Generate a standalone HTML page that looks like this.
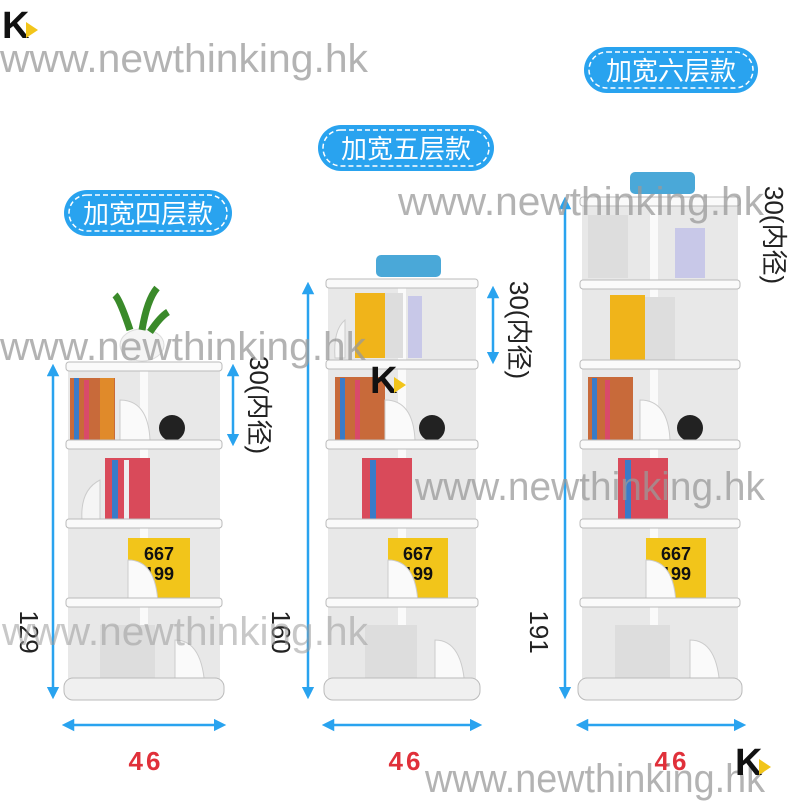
<!DOCTYPE html>
<html><head><meta charset="utf-8"><style>
html,body{margin:0;padding:0;background:#fff;}
svg{display:block;}
</style></head><body>
<svg width="800" height="810" viewBox="0 0 800 810" xmlns="http://www.w3.org/2000/svg" font-family="Liberation Sans, Noto Sans CJK SC, sans-serif">
<defs>
<marker id="a" viewBox="0 0 10 10" refX="5" refY="5" markerWidth="5" markerHeight="5" orient="auto-start-reverse"><path d="M0,0L10,5L0,10z" fill="#29a3ef"/></marker>
</defs>
<rect width="800" height="810" fill="#fff"/>

<!-- Pills -->
<g>
<rect x="64" y="190" width="168" height="46" rx="23" fill="#29a3ef"/>
<rect x="69" y="195" width="158" height="36" rx="18" fill="none" stroke="#fff" stroke-width="1.5" stroke-dasharray="5,3"/>
<text x="148" y="223" font-size="26" fill="#fff" text-anchor="middle" font-family="Noto Sans CJK SC, sans-serif">加宽四层款</text>
<rect x="318" y="125" width="176" height="46" rx="23" fill="#29a3ef"/>
<rect x="323" y="130" width="166" height="36" rx="18" fill="none" stroke="#fff" stroke-width="1.5" stroke-dasharray="5,3"/>
<text x="406" y="158" font-size="26" fill="#fff" text-anchor="middle" font-family="Noto Sans CJK SC, sans-serif">加宽五层款</text>
<rect x="584" y="47" width="174" height="46" rx="23" fill="#29a3ef"/>
<rect x="589" y="52" width="164" height="36" rx="18" fill="none" stroke="#fff" stroke-width="1.5" stroke-dasharray="5,3"/>
<text x="671" y="80" font-size="26" fill="#fff" text-anchor="middle" font-family="Noto Sans CJK SC, sans-serif">加宽六层款</text>
</g>

<!-- Shelf 1 -->
<g>
<rect x="68" y="365" width="152" height="320" fill="#e8e8e8"/>
<rect x="140" y="365" width="8" height="320" fill="#fafafa"/>
<rect x="70" y="378" width="45" height="63" fill="#c86a3a"/><rect x="74" y="378" width="5" height="63" fill="#3a7bc8"/><rect x="84" y="380" width="5" height="61" fill="#d94a6a"/><rect x="100" y="378" width="14" height="63" fill="#e08a2a"/>
<circle cx="172" cy="428" r="13" fill="#222"/>
<rect x="105" y="458" width="45" height="64" fill="#d94a5a"/><rect x="112" y="460" width="6" height="62" fill="#3a7bc8"/><rect x="124" y="460" width="5" height="62" fill="#eee"/>
<rect x="128" y="538" width="62" height="66" fill="#f2c51a"/><text x="159" y="560" font-size="18" font-weight="bold" text-anchor="middle" fill="#111">667</text><text x="159" y="580" font-size="18" font-weight="bold" text-anchor="middle" fill="#111">199</text>
<rect x="100" y="625" width="55" height="65" fill="#ddd"/>
<path d="M120,400 q28,0 30,40 h-30z" fill="#fafafa" stroke="#ccc"/>
<path d="M100,480 q-20,10 -18,40 h18z" fill="#f5f5f5" stroke="#ccc"/>
<path d="M128,560 q28,0 30,44 h-30z" fill="#fafafa" stroke="#ccc"/>
<path d="M175,640 q28,0 30,50 h-30z" fill="#fafafa" stroke="#ccc"/>
<rect x="66" y="362" width="156" height="9" rx="3" fill="#fafafa" stroke="#bbb"/>
<rect x="66" y="440" width="156" height="9" rx="3" fill="#fafafa" stroke="#bbb"/>
<rect x="66" y="519" width="156" height="9" rx="3" fill="#fafafa" stroke="#bbb"/>
<rect x="66" y="598" width="156" height="9" rx="3" fill="#fafafa" stroke="#bbb"/>
<rect x="64" y="678" width="160" height="22" rx="9" fill="#f0f0f0" stroke="#bbb"/>
<ellipse cx="142" cy="345" rx="22" ry="16" fill="#f5f5f5" stroke="#ddd"/>
<path d="M130,330 q-10,-30 -15,-35 M142,330 q5,-30 15,-42 M150,332 q10,-15 18,-20" stroke="#3a8a2a" stroke-width="7" fill="none"/>
</g>

<!-- Shelf 2 -->
<g>
<rect x="328" y="282" width="148" height="402" fill="#e8e8e8"/>
<rect x="398" y="282" width="8" height="402" fill="#fafafa"/>
<rect x="355" y="293" width="35" height="65" fill="#f0b41a"/><rect x="385" y="293" width="18" height="65" fill="#ddd"/><rect x="408" y="296" width="14" height="62" fill="#c8c8e8"/>
<rect x="335" y="377" width="50" height="65" fill="#c86a3a"/><rect x="340" y="378" width="5" height="63" fill="#3a7bc8"/><rect x="355" y="380" width="5" height="61" fill="#d94a6a"/>
<circle cx="432" cy="428" r="13" fill="#222"/>
<rect x="362" y="458" width="50" height="64" fill="#d94a5a"/><rect x="370" y="460" width="6" height="62" fill="#3a7bc8"/>
<rect x="388" y="538" width="60" height="66" fill="#f2c51a"/><text x="418" y="560" font-size="18" font-weight="bold" text-anchor="middle" fill="#111">667</text><text x="418" y="580" font-size="18" font-weight="bold" text-anchor="middle" fill="#111">199</text>
<rect x="365" y="625" width="52" height="65" fill="#ddd"/>
<path d="M385,400 q28,0 30,40 h-30z" fill="#fafafa" stroke="#ccc"/>
<path d="M345,320 q-12,10 -10,38 h10z" fill="#f5f5f5" stroke="#ccc"/>
<path d="M388,560 q28,0 30,44 h-30z" fill="#fafafa" stroke="#ccc"/>
<path d="M435,640 q28,0 30,50 h-30z" fill="#fafafa" stroke="#ccc"/>
<rect x="326" y="279" width="152" height="9" rx="3" fill="#fafafa" stroke="#bbb"/>
<rect x="326" y="360" width="152" height="9" rx="3" fill="#fafafa" stroke="#bbb"/>
<rect x="326" y="440" width="152" height="9" rx="3" fill="#fafafa" stroke="#bbb"/>
<rect x="326" y="519" width="152" height="9" rx="3" fill="#fafafa" stroke="#bbb"/>
<rect x="326" y="598" width="152" height="9" rx="3" fill="#fafafa" stroke="#bbb"/>
<rect x="324" y="678" width="156" height="22" rx="9" fill="#f0f0f0" stroke="#bbb"/>
<rect x="376" y="255" width="65" height="22" rx="5" fill="#4aa8d8"/>
</g>

<!-- Shelf 3 -->
<g>
<rect x="582" y="200" width="156" height="484" fill="#e8e8e8"/>
<rect x="650" y="200" width="8" height="484" fill="#fafafa"/>
<rect x="588" y="215" width="40" height="63" fill="#ddd"/><rect x="675" y="228" width="30" height="50" fill="#c8c8e8"/>
<rect x="610" y="295" width="35" height="65" fill="#f0b41a"/><rect x="645" y="297" width="30" height="63" fill="#ddd"/>
<rect x="588" y="377" width="45" height="65" fill="#c86a3a"/><rect x="592" y="378" width="5" height="63" fill="#3a7bc8"/><rect x="605" y="380" width="5" height="61" fill="#d94a6a"/>
<circle cx="690" cy="428" r="13" fill="#222"/>
<rect x="618" y="458" width="50" height="64" fill="#d94a5a"/><rect x="625" y="460" width="6" height="62" fill="#3a7bc8"/>
<rect x="646" y="538" width="60" height="66" fill="#f2c51a"/><text x="676" y="560" font-size="18" font-weight="bold" text-anchor="middle" fill="#111">667</text><text x="676" y="580" font-size="18" font-weight="bold" text-anchor="middle" fill="#111">199</text>
<rect x="615" y="625" width="55" height="65" fill="#ddd"/>
<path d="M640,400 q28,0 30,40 h-30z" fill="#fafafa" stroke="#ccc"/>
<path d="M646,560 q28,0 30,44 h-30z" fill="#fafafa" stroke="#ccc"/>
<path d="M690,640 q28,0 30,50 h-30z" fill="#fafafa" stroke="#ccc"/>
<rect x="580" y="197" width="160" height="9" rx="3" fill="#fafafa" stroke="#bbb"/>
<rect x="580" y="280" width="160" height="9" rx="3" fill="#fafafa" stroke="#bbb"/>
<rect x="580" y="360" width="160" height="9" rx="3" fill="#fafafa" stroke="#bbb"/>
<rect x="580" y="440" width="160" height="9" rx="3" fill="#fafafa" stroke="#bbb"/>
<rect x="580" y="519" width="160" height="9" rx="3" fill="#fafafa" stroke="#bbb"/>
<rect x="580" y="598" width="160" height="9" rx="3" fill="#fafafa" stroke="#bbb"/>
<rect x="578" y="678" width="164" height="22" rx="9" fill="#f0f0f0" stroke="#bbb"/>
<rect x="630" y="172" width="65" height="22" rx="5" fill="#4aa8d8"/>
</g>

<!-- Dimension lines -->
<g stroke="#29a3ef" stroke-width="2.5" fill="none">
<line x1="53" y1="370" x2="53" y2="693" marker-start="url(#a)" marker-end="url(#a)"/>
<line x1="308" y1="288" x2="308" y2="693" marker-start="url(#a)" marker-end="url(#a)"/>
<line x1="565" y1="203" x2="565" y2="693" marker-start="url(#a)" marker-end="url(#a)"/>
<line x1="233" y1="370" x2="233" y2="440" marker-start="url(#a)" marker-end="url(#a)"/>
<line x1="493" y1="292" x2="493" y2="358" marker-start="url(#a)" marker-end="url(#a)"/>
<line x1="68" y1="725" x2="220" y2="725" marker-start="url(#a)" marker-end="url(#a)"/>
<line x1="328" y1="725" x2="476" y2="725" marker-start="url(#a)" marker-end="url(#a)"/>
<line x1="582" y1="725" x2="740" y2="725" marker-start="url(#a)" marker-end="url(#a)"/>
</g>
<g fill="#222" font-size="26">
<text transform="translate(20,632) rotate(90)" text-anchor="middle">129</text>
<text transform="translate(272,632) rotate(90)" text-anchor="middle">160</text>
<text transform="translate(530,632) rotate(90)" text-anchor="middle">191</text>
<text transform="translate(250,405) rotate(90)" text-anchor="middle">30(内径)</text>
<text transform="translate(510,330) rotate(90)" text-anchor="middle">30(内径)</text>
<text transform="translate(765,235) rotate(90)" text-anchor="middle">30(内径)</text>
</g>
<g fill="#e0303a" font-size="26" font-weight="bold" text-anchor="middle" letter-spacing="3">
<text x="146" y="770">46</text>
<text x="406" y="770">46</text>
<text x="672" y="770">46</text>
</g>

<!-- Watermarks -->
<g fill="#9a9a9a" fill-opacity="0.75" font-size="40">
<text x="0" y="72" textLength="368" lengthAdjust="spacingAndGlyphs">www.newthinking.hk</text>
<text x="398" y="215" textLength="366" lengthAdjust="spacingAndGlyphs">www.newthinking.hk</text>
<text x="0" y="360" textLength="366" lengthAdjust="spacingAndGlyphs">www.newthinking.hk</text>
<text x="415" y="500" textLength="350" lengthAdjust="spacingAndGlyphs">www.newthinking.hk</text>
<text x="2" y="645" textLength="366" lengthAdjust="spacingAndGlyphs" fill-opacity="0.55">www.newthinking.hk</text>
<text x="425" y="792" textLength="340" lengthAdjust="spacingAndGlyphs">www.newthinking.hk</text>
</g>

<!-- Logos -->
<g font-weight="bold" font-size="38">
<text x="2" y="38" fill="#111">K</text><path d="M26,22 l12,8 l-12,8z" fill="#f2c51a"/>
<text x="370" y="393" fill="#111">K</text><path d="M394,377 l12,8 l-12,8z" fill="#f2c51a"/>
<text x="735" y="775" fill="#111">K</text><path d="M759,759 l12,8 l-12,8z" fill="#f2c51a"/>
</g>
</svg>
</body></html>
